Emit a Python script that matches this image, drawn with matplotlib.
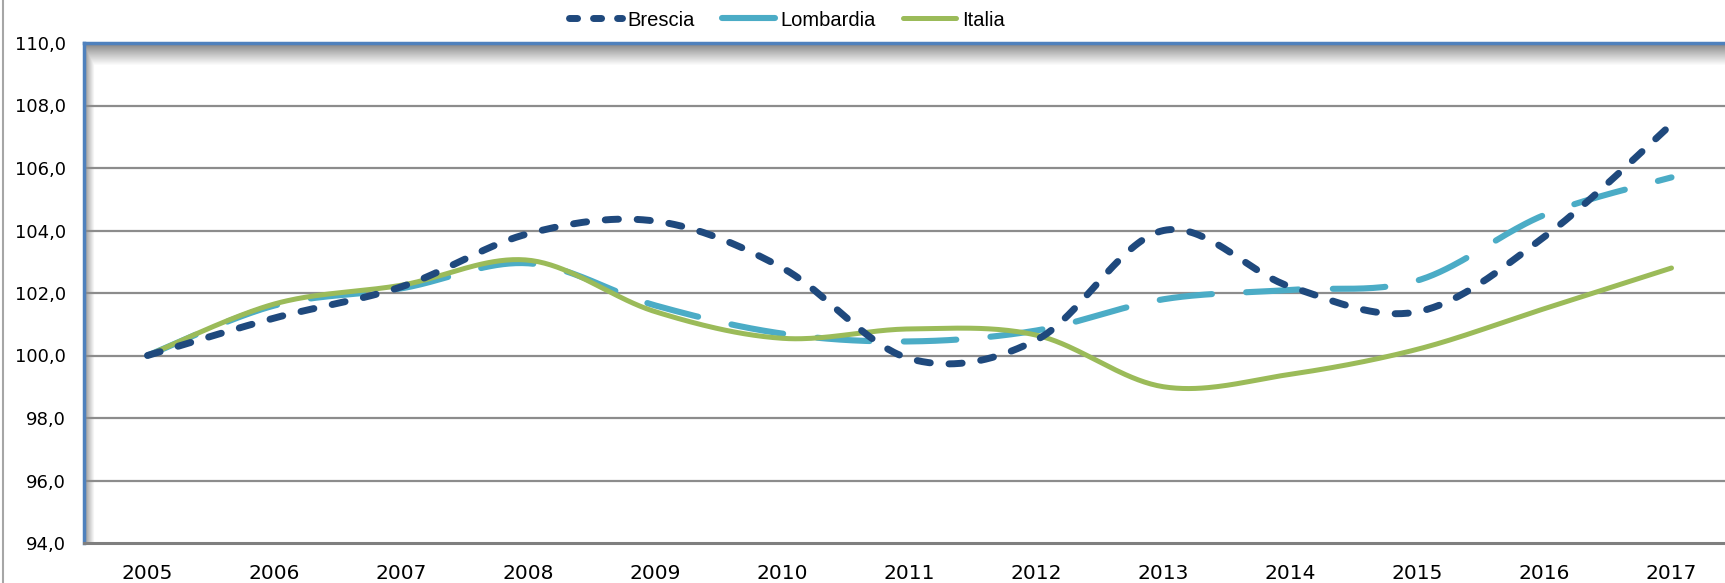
import numpy as np
import matplotlib
matplotlib.use("Agg")
import matplotlib.pyplot as plt
from matplotlib.lines import Line2D

years = [2005, 2006, 2007, 2008, 2009, 2010, 2011, 2012, 2013, 2014, 2015, 2016, 2017]
brescia = [100.0, 101.2, 102.2, 103.9, 104.3, 102.8, 99.9, 100.5, 104.0, 102.2, 101.4, 103.8, 107.4]
lombardia = [100.0, 101.6, 102.15, 102.95, 101.6, 100.7, 100.45, 100.8, 101.8, 102.1, 102.4, 104.5, 105.7]
italia = [100.0, 101.65, 102.25, 103.05, 101.4, 100.55, 100.85, 100.65, 99.0, 99.4, 100.2, 101.5, 102.8]
yticks = [94, 96, 98, 100, 102, 104, 106, 108, 110]
ytick_labels = ["94,0", "96,0", "98,0", "100,0", "102,0", "104,0", "106,0", "108,0", "110,0"]
series_names = ["Brescia", "Lombardia", "Italia"]


def smooth(xs, ys, n=40):
    """Excel-like smoothed line: cubic Bezier through points (Catmull-Rom tangents)."""
    xs = np.asarray(xs, float)
    ys = np.asarray(ys, float)
    P = np.column_stack([xs, ys])
    m = len(P)
    out = []
    for i in range(m - 1):
        p0 = P[i - 1] if i > 0 else P[i]
        p1 = P[i]
        p2 = P[i + 1]
        p3 = P[i + 2] if i + 2 < m else P[i + 1]
        c1 = p1 + (p2 - p0) / 6.0
        c2 = p2 - (p3 - p1) / 6.0
        t = np.linspace(0, 1, n, endpoint=(i == m - 2))[:, None]
        seg = ((1 - t) ** 3) * p1 + 3 * ((1 - t) ** 2) * t * c1 + 3 * (1 - t) * t ** 2 * c2 + t ** 3 * p2
        out.append(seg)
    out = np.vstack(out)
    return out[:, 0], out[:, 1]


tick_font = "DejaVu Sans"
legend_family = ["Liberation Sans", "DejaVu Sans"]

W, H = 1725, 583
fig = plt.figure(figsize=(W / 100, H / 100), dpi=100)
fig.patch.set_facecolor("white")

left, right, top, bottom = 84, 1735, 43, 543
pw, ph = right - left, bottom - top
ax = fig.add_axes([left / W, (H - bottom) / H, pw / W, ph / H])
ax.set_xlim(2004.5, 2017.5)
ax.set_ylim(94, 110)

# wall shading (3D wall look)
dy = np.arange(ph)[:, None].astype(float)
dx = np.arange(pw)[None, :].astype(float)
shade_top = 0.5 + 0.5 * np.clip(dy / 22.0, 0, 1) ** 0.9
shade_left = 0.55 + 0.45 * np.clip(dx / 10.0, 0, 1) ** 0.9
img = np.minimum(shade_top, shade_left)
ax.imshow(img, cmap="gray", vmin=0, vmax=1, aspect="auto",
          extent=[0, 1, 0, 1], transform=ax.transAxes, zorder=0.5,
          interpolation="bilinear")

# grid
for yv in yticks[1:-1]:
    ax.axhline(yv, color="#8c8c8c", lw=1.6, zorder=1)

ax.spines["right"].set_visible(False)
ax.spines["top"].set_color("#4f81bd")
ax.spines["top"].set_linewidth(2.5)
ax.spines["left"].set_color("#4f81bd")
ax.spines["left"].set_linewidth(2.5)
ax.spines["bottom"].set_color("#7f7f7f")
ax.spines["bottom"].set_linewidth(2.2)
for s in ax.spines.values():
    s.set_zorder(3)

bx, by = smooth(years, brescia)
lx, ly = smooth(years, lombardia)
ix, iy = smooth(years, italia)

ax.plot(lx, ly, color="#4bacc6", lw=4.4, dashes=(8.6, 5.6),
        dash_capstyle="round", solid_capstyle="round", zorder=4)
ax.plot(ix, iy, color="#9bbb59", lw=3.6, solid_capstyle="round", zorder=5)
ax.plot(bx, by, color="#1f497d", lw=5.0, dashes=(1.9, 2.7),
        dash_capstyle="round", solid_capstyle="round", zorder=6)

ax.set_yticks(yticks)
ax.set_yticklabels(ytick_labels, fontsize=13, family=tick_font, color="black")
ax.set_xticks(years)
ax.set_xticklabels([str(y) for y in years], fontsize=14.5, family=tick_font, color="black")
ax.tick_params(axis="both", length=0)
ax.tick_params(axis="y", pad=13)
ax.tick_params(axis="x", pad=15)

# legend
h_b = Line2D([], [], color="#1f497d", lw=5.0, dashes=(1.16, 2.3), dash_capstyle="round")
h_l = Line2D([], [], color="#4bacc6", lw=4.4, solid_capstyle="round")
h_i = Line2D([], [], color="#9bbb59", lw=3.6, solid_capstyle="round")
leg = fig.legend([h_b, h_l, h_i], series_names, loc="center", bbox_to_anchor=(787 / W, 1 - 20 / H),
                 ncol=3, frameon=False, handlelength=2.6, handletextpad=0.3, columnspacing=1.35,
                 prop={"family": legend_family, "size": 14.5})

# figure border line on the left
fig.add_artist(Line2D([2.5 / W, 2.5 / W], [0, 1], color="#a6a6a6", lw=1.5, transform=fig.transFigure))

fig.savefig("out.png", dpi=100, facecolor="white")
